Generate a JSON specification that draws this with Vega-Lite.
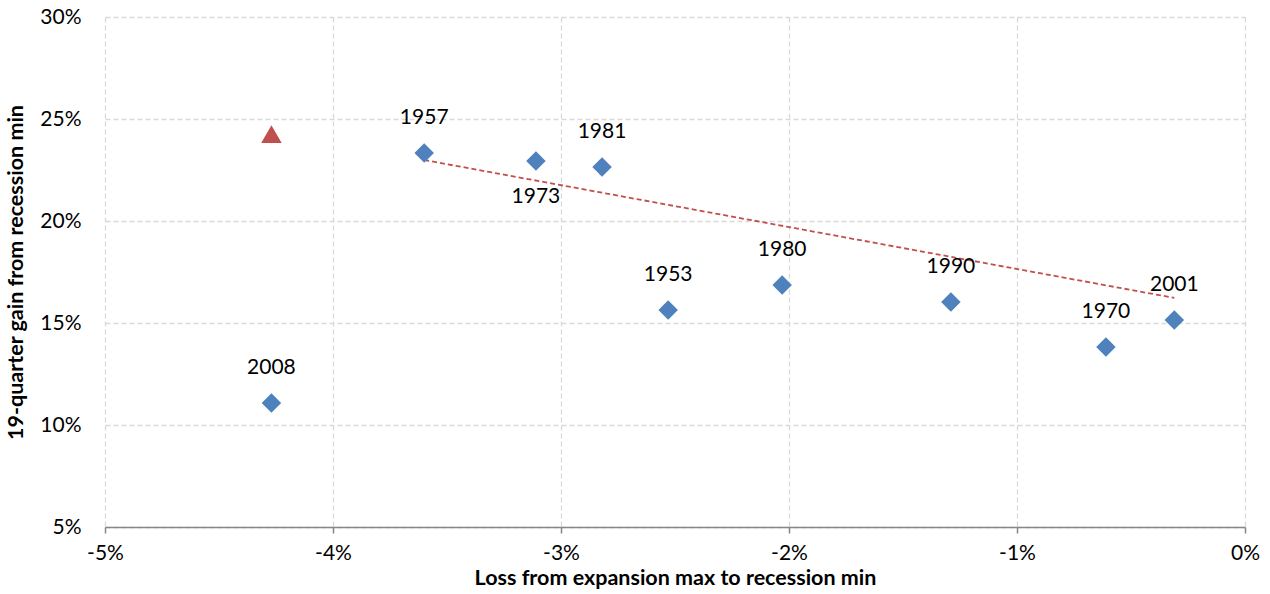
{
  "$schema": "https://vega.github.io/schema/vega-lite/v6.json",
  "width": 1140,
  "height": 510,
  "autosize": {"type": "none"},
  "padding": {"left": 105, "top": 17, "right": 25, "bottom": 67},
  "background": "white",
  "config": {
    "view": {"stroke": null},
    "font": "Lato",
    "axis": {
      "labelFont": "Lato",
      "titleFont": "Lato",
      "labelFontSize": 21,
      "titleFontSize": 21.5,
      "titleFontWeight": "bold",
      "labelColor": "#000000",
      "titleColor": "#000000",
      "gridColor": "#d9d9d9",
      "gridDash": [5, 3],
      "gridWidth": 1.3
    }
  },
  "datasets": {
    "pts": [
      {"year": "2008", "loss": -0.0427, "gain": 0.1108},
      {"year": "1957", "loss": -0.0360, "gain": 0.2333},
      {"year": "1973", "loss": -0.0311, "gain": 0.2294},
      {"year": "1981", "loss": -0.0282, "gain": 0.2265},
      {"year": "1953", "loss": -0.0253, "gain": 0.1564},
      {"year": "1980", "loss": -0.0203, "gain": 0.1686},
      {"year": "1990", "loss": -0.0129, "gain": 0.1603},
      {"year": "1970", "loss": -0.0061, "gain": 0.1382},
      {"year": "2001", "loss": -0.0031, "gain": 0.1515}
    ],
    "tri": [
      {"loss": -0.0427, "gain": 0.2426}
    ],
    "trend": [
      {"loss": -0.0360, "gain": 0.2299},
      {"loss": -0.0031, "gain": 0.1623}
    ]
  },
  "encoding": {
    "x": {
      "field": "loss",
      "type": "quantitative",
      "scale": {"domain": [-0.05, 0], "nice": false, "zero": false},
      "axis": {
        "title": "Loss from expansion max to recession min",
        "format": ".0%",
        "labelExpr": "replace(datum.label, '\u2212', '-')",
        "values": [-0.05, -0.04, -0.03, -0.02, -0.01, 0],
        "domainColor": "#868686",
        "domainWidth": 1.5,
        "tickColor": "#868686",
        "tickWidth": 1.5,
        "tickSize": 6,
        "labelPadding": 9,
        "titlePadding": 4,
        "labelFlush": false
      }
    },
    "y": {
      "field": "gain",
      "type": "quantitative",
      "scale": {"domain": [0.05, 0.30], "nice": false, "zero": false},
      "axis": {
        "title": "19-quarter gain from recession min",
        "format": ".0%",
        "values": [0.05, 0.10, 0.15, 0.20, 0.25, 0.30],
        "domain": false,
        "ticks": false,
        "labelPadding": 24,
        "titlePadding": 12,
        "labelFlush": false
      }
    }
  },
  "layer": [
    {
      "data": {"name": "trend"},
      "mark": {"type": "line", "color": "#c0504d", "strokeWidth": 1.8, "strokeDash": [5, 3]}
    },
    {
      "data": {"name": "pts"},
      "mark": {"type": "point", "shape": "diamond", "filled": true, "opacity": 1, "color": "#4f81bd", "size": 380}
    },
    {
      "data": {"name": "tri"},
      "mark": {"type": "point", "shape": "triangle-up", "filled": true, "opacity": 1, "color": "#c0504d", "size": 420}
    },
    {
      "data": {"name": "pts"},
      "transform": [{"filter": "datum.year != '1973'"}],
      "mark": {"type": "text", "fontSize": 21, "font": "Lato", "color": "#000000", "dy": -35},
      "encoding": {"text": {"field": "year"}}
    },
    {
      "data": {"name": "pts"},
      "transform": [{"filter": "datum.year == '1973'"}],
      "mark": {"type": "text", "fontSize": 21, "font": "Lato", "color": "#000000", "dy": 36},
      "encoding": {"text": {"field": "year"}}
    }
  ]
}
